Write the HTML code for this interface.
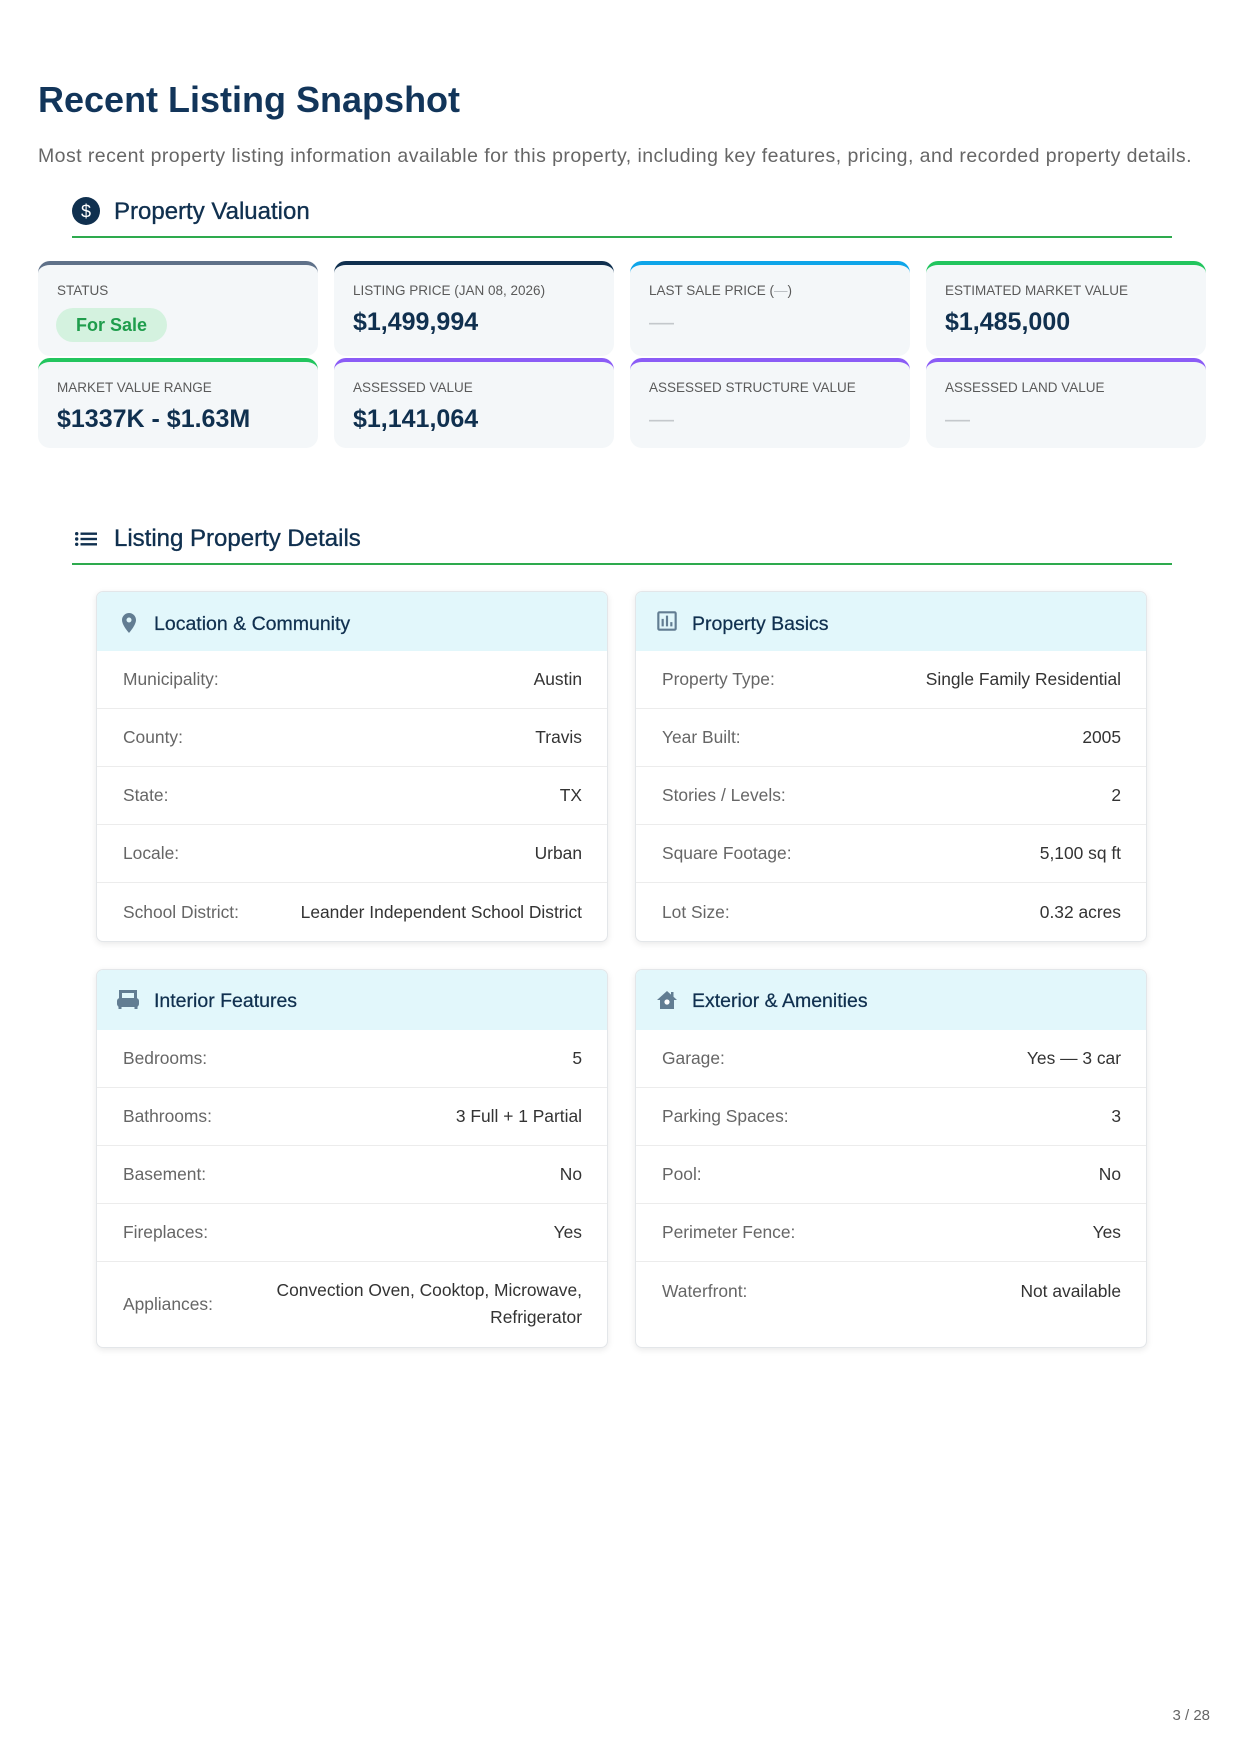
<!DOCTYPE html>
<html><head><meta charset="utf-8">
<style>
*{margin:0;padding:0;box-sizing:border-box}
html,body{width:1242px;height:1754px;background:#fff}
body{position:relative;font-family:"Liberation Sans",Arial,sans-serif;overflow:hidden}
.a{position:absolute;white-space:nowrap}
.title{left:38px;top:82px;font-size:36px;line-height:36px;font-weight:bold;color:#12355a}
.sub{left:38px;top:147px;font-size:19.5px;line-height:19.5px;letter-spacing:0.44px;color:#666}
.sh{font-size:24px;line-height:24px;color:#10304f;-webkit-text-stroke:0.35px #10304f}
.gl{position:absolute;left:72px;width:1100px;height:2px;background:#2eaa4e}
.card{position:absolute;width:280px;background:#f4f7f9;border-radius:12px;border-top:4px solid #000}
.r1{top:261px;height:95px}
.r2{top:358px;height:90px}
.lbl{position:absolute;left:19px;top:18.6px;font-size:13.5px;line-height:13.5px;color:#5a5a5a;white-space:nowrap}
.lt{color:#b8bcc0}
.val{position:absolute;left:19px;top:44.8px;font-size:25px;line-height:25px;font-weight:bold;color:#10304f;white-space:nowrap}
.dash{font-weight:normal;color:#c4c8cc}
.pill{position:absolute;left:18px;top:43px;width:111px;height:34px;border-radius:17px;background:#d4f2df;color:#1f9d4c;font-weight:bold;font-size:18px;line-height:34px;text-align:center;white-space:nowrap}
.pnl{position:absolute;border:1px solid #e3e6e9;border-radius:7px;box-shadow:0 2px 7px rgba(0,0,0,.09);background:#fff;overflow:hidden}
.ph{position:relative;background:#e2f7fb}
.ph svg{position:absolute}
.pt{position:absolute;font-size:19.5px;line-height:19.5px;color:#10304f;white-space:nowrap;-webkit-text-stroke:0.25px #10304f}
.row{height:58px;border-bottom:1px solid #ececec;display:flex;justify-content:space-between;align-items:center;padding:0 25px 0 26px;font-size:17.4px;line-height:27px;white-space:nowrap}
.row:last-child{border-bottom:none}
.k{color:#666}
.v{color:#333;text-align:right}
.pg{right:32px;top:1708px;font-size:15px;line-height:15px;color:#666}
</style></head>
<body>

<div class="a title">Recent Listing Snapshot</div>
<div class="a sub">Most recent property listing information available for this property, including key features, pricing, and recorded property details.</div>

<svg class="a" style="left:72px;top:197px" width="28" height="28" viewBox="0 0 28 28">
  <circle cx="14" cy="14" r="14" fill="#10304f"/>
  <text x="14" y="20.5" font-family="Liberation Sans, Arial, sans-serif" font-size="18" fill="#fff" text-anchor="middle">$</text>
</svg>
<div class="a sh" style="left:114px;top:200px">Property Valuation</div>
<div class="gl" style="top:236px"></div>

<div class="card r1" style="left:38px;border-top-color:#5f7189">
  <div class="lbl">STATUS</div>
  <div class="pill">For Sale</div>
</div>
<div class="card r1" style="left:334px;border-top-color:#10304f">
  <div class="lbl">LISTING PRICE (JAN 08, 2026)</div>
  <div class="val">$1,499,994</div>
</div>
<div class="card r1" style="left:630px;border-top-color:#0ea5e9">
  <div class="lbl">LAST SALE PRICE (<span class="lt">—</span>)</div>
  <div class="val dash">—</div>
</div>
<div class="card r1" style="left:926px;border-top-color:#22c55e">
  <div class="lbl">ESTIMATED MARKET VALUE</div>
  <div class="val">$1,485,000</div>
</div>

<div class="card r2" style="left:38px;border-top-color:#22c55e">
  <div class="lbl">MARKET VALUE RANGE</div>
  <div class="val">$1337K - $1.63M</div>
</div>
<div class="card r2" style="left:334px;border-top-color:#8b5cf6">
  <div class="lbl">ASSESSED VALUE</div>
  <div class="val">$1,141,064</div>
</div>
<div class="card r2" style="left:630px;border-top-color:#8b5cf6">
  <div class="lbl">ASSESSED STRUCTURE VALUE</div>
  <div class="val dash">—</div>
</div>
<div class="card r2" style="left:926px;border-top-color:#8b5cf6">
  <div class="lbl">ASSESSED LAND VALUE</div>
  <div class="val dash">—</div>
</div>

<svg class="a" style="left:75px;top:532px" width="22" height="14" viewBox="0 0 22 14">
  <circle cx="1.7" cy="1.7" r="1.7" fill="#10304f"/>
  <circle cx="1.7" cy="7" r="1.7" fill="#10304f"/>
  <circle cx="1.7" cy="12.3" r="1.7" fill="#10304f"/>
  <rect x="5.5" y="0.5" width="16.5" height="2.4" fill="#10304f"/>
  <rect x="5.5" y="5.8" width="16.5" height="2.4" fill="#10304f"/>
  <rect x="5.5" y="11.1" width="16.5" height="2.4" fill="#10304f"/>
</svg>
<div class="a sh" style="left:114px;top:527px">Listing Property Details</div>
<div class="gl" style="top:563px"></div>

<div class="pnl" style="left:96px;top:591px;width:512px;height:351px">
  <div class="ph" style="height:59px">
    <svg style="left:19.5px;top:18.5px" width="24" height="24" viewBox="0 0 24 24"><path fill="#627d92" d="M12 2C8.13 2 5 5.13 5 9c0 5.25 7 13 7 13s7-7.75 7-13c0-3.87-3.13-7-7-7zm0 9.5a2.5 2.5 0 0 1 0-5 2.5 2.5 0 0 1 0 5z"/></svg>
    <div class="pt" style="left:57px;top:22.5px">Location &amp; Community</div>
  </div>
  <div class="row"><span class="k">Municipality:</span><span class="v">Austin</span></div>
  <div class="row"><span class="k">County:</span><span class="v">Travis</span></div>
  <div class="row"><span class="k">State:</span><span class="v">TX</span></div>
  <div class="row"><span class="k">Locale:</span><span class="v">Urban</span></div>
  <div class="row"><span class="k">School District:</span><span class="v">Leander Independent School District</span></div>
</div>

<div class="pnl" style="left:635px;top:591px;width:512px;height:351px">
  <div class="ph" style="height:59px">
    <svg style="left:18px;top:16px" width="26" height="26" viewBox="0 0 24 24"><path fill="#627d92" d="M9 17H7v-7h2v7zm4 0h-2V7h2v10zm4 0h-2v-4h2v4zm2 2H5V5h14v14zm0-16H5c-1.1 0-2 .9-2 2v14c0 1.1.9 2 2 2h14c1.1 0 2-.9 2-2V5c0-1.1-.9-2-2-2z"/></svg>
    <div class="pt" style="left:56px;top:22.5px">Property Basics</div>
  </div>
  <div class="row"><span class="k">Property Type:</span><span class="v">Single Family Residential</span></div>
  <div class="row"><span class="k">Year Built:</span><span class="v">2005</span></div>
  <div class="row"><span class="k">Stories / Levels:</span><span class="v">2</span></div>
  <div class="row"><span class="k">Square Footage:</span><span class="v">5,100 sq ft</span></div>
  <div class="row"><span class="k">Lot Size:</span><span class="v">0.32 acres</span></div>
</div>

<div class="pnl" style="left:96px;top:969px;width:512px;height:379px">
  <div class="ph" style="height:60px">
    <svg style="left:20px;top:20px" width="22" height="20" viewBox="0 0 22 20">
      <rect x="2" y="0" width="18" height="3" rx="1" fill="#627d92"/>
      <rect x="2" y="0" width="3" height="10" fill="#627d92"/>
      <rect x="17" y="0" width="3" height="10" fill="#627d92"/>
      <rect x="0" y="8" width="22" height="9" rx="3" fill="#627d92"/>
      <rect x="1.5" y="15" width="3" height="4" fill="#627d92"/>
      <rect x="17.5" y="15" width="3" height="4" fill="#627d92"/>
    </svg>
    <div class="pt" style="left:57px;top:21.5px">Interior Features</div>
  </div>
  <div class="row"><span class="k">Bedrooms:</span><span class="v">5</span></div>
  <div class="row"><span class="k">Bathrooms:</span><span class="v">3 Full + 1 Partial</span></div>
  <div class="row"><span class="k">Basement:</span><span class="v">No</span></div>
  <div class="row"><span class="k">Fireplaces:</span><span class="v">Yes</span></div>
  <div class="row" style="height:84px"><span class="k">Appliances:</span><span class="v">Convection Oven, Cooktop, Microwave,<br>Refrigerator</span></div>
</div>

<div class="pnl" style="left:635px;top:969px;width:512px;height:379px">
  <div class="ph" style="height:60px">
    <svg style="left:21px;top:20px" width="20" height="20" viewBox="0 0 20 20">
      <path fill="#627d92" d="M10 1 L0 10 H3 V19 H17 V10 H20 L16.5 6.8 V2 H14 V4.6 Z"/>
      <circle cx="10" cy="12" r="2.6" fill="#fff"/>
    </svg>
    <div class="pt" style="left:56px;top:21.5px">Exterior &amp; Amenities</div>
  </div>
  <div class="row"><span class="k">Garage:</span><span class="v">Yes — 3 car</span></div>
  <div class="row"><span class="k">Parking Spaces:</span><span class="v">3</span></div>
  <div class="row"><span class="k">Pool:</span><span class="v">No</span></div>
  <div class="row"><span class="k">Perimeter Fence:</span><span class="v">Yes</span></div>
  <div class="row" style="border-bottom:none"><span class="k">Waterfront:</span><span class="v">Not available</span></div>
</div>

<div class="a pg">3 / 28</div>

</body></html>
